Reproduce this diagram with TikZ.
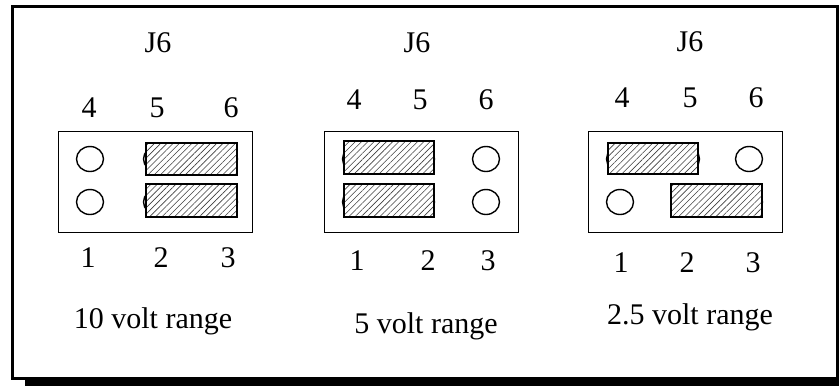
\documentclass[tikz,border=0pt]{standalone}
\usepackage{fontspec}
\setmainfont{Liberation Serif}
\usetikzlibrary{patterns.meta}

\begin{document}
\begin{tikzpicture}[x=0.5pt,y=-0.5pt,
    pin/.style={draw,line width=0.7pt,fill=white},
    jumper/.style={draw,line width=0.7pt,preaction={fill=white},
        pattern={Lines[angle=45,distance=2.2pt,line width=0.3pt]},pattern color=black!75},
    header/.style={draw,line width=0.5pt},
    lbl/.style={anchor=base,inner sep=0pt,font=\fontsize{15}{18}\selectfont}]

    \useasboundingbox (0,0) rectangle (839,385);
    \clip (0,0) rectangle (839,385);

    % frame with its shadow
    \fill (25,378) rectangle (850,386);
    \draw[line width=1.5pt] (12.5,7) rectangle (837.5,378);

    % 10 volt range
    \node[lbl] (jA) at (158,53) {J6};
    \node[lbl] (a4) at (89,118) {4};
    \node[lbl] (a5) at (157,118) {5};
    \node[lbl] (a6) at (231,118) {6};
    \draw[header] (58,131) rectangle (252,232);
    \foreach \x in {90,157,224}
        \foreach \y in {159,202}
            \draw[pin] (\x,\y) ellipse [x radius=13.5, y radius=12.5];
    \draw[jumper] (146,143) rectangle (237,175);
    \draw[jumper] (146,184) rectangle (237,217);
    \node[lbl] (a1) at (88,267) {1};
    \node[lbl] (a2) at (161,267) {2};
    \node[lbl] (a3) at (228,267) {3};
    \node[lbl] (capA) at (153,328) {10 volt range};

    % 5 volt range
    \node[lbl] (jB) at (417,53) {J6};
    \node[lbl] (b4) at (354,110) {4};
    \node[lbl] (b5) at (420,110) {5};
    \node[lbl] (b6) at (486,110) {6};
    \draw[header] (324,131) rectangle (518,232);
    \foreach \x in {356,421,486}
        \foreach \y in {159,202}
            \draw[pin] (\x,\y) ellipse [x radius=13.5, y radius=12.5];
    \draw[jumper] (344,141) rectangle (434,174);
    \draw[jumper] (344,184) rectangle (434,217);
    \node[lbl] (b1) at (357,270) {1};
    \node[lbl] (b2) at (428,270) {2};
    \node[lbl] (b3) at (488,270) {3};
    \node[lbl] (capB) at (426,333) {5 volt range};

    % 2.5 volt range
    \node[lbl] (jC) at (690,52) {J6};
    \node[lbl] (c4) at (622,107) {4};
    \node[lbl] (c5) at (690,107) {5};
    \node[lbl] (c6) at (756,107) {6};
    \draw[header] (588,131) rectangle (782,232);
    \foreach \x in {620,686,749}
        \foreach \y in {159,202}
            \draw[pin] (\x,\y) ellipse [x radius=13.5, y radius=12.5];
    \draw[jumper] (608,143) rectangle (698,174);
    \draw[jumper] (671,184) rectangle (762,217);
    \node[lbl] (c1) at (621,272) {1};
    \node[lbl] (c2) at (687,272) {2};
    \node[lbl] (c3) at (753,272) {3};
    \node[lbl] (capC) at (690,324) {2.5 volt range};

\end{tikzpicture}
\end{document}
